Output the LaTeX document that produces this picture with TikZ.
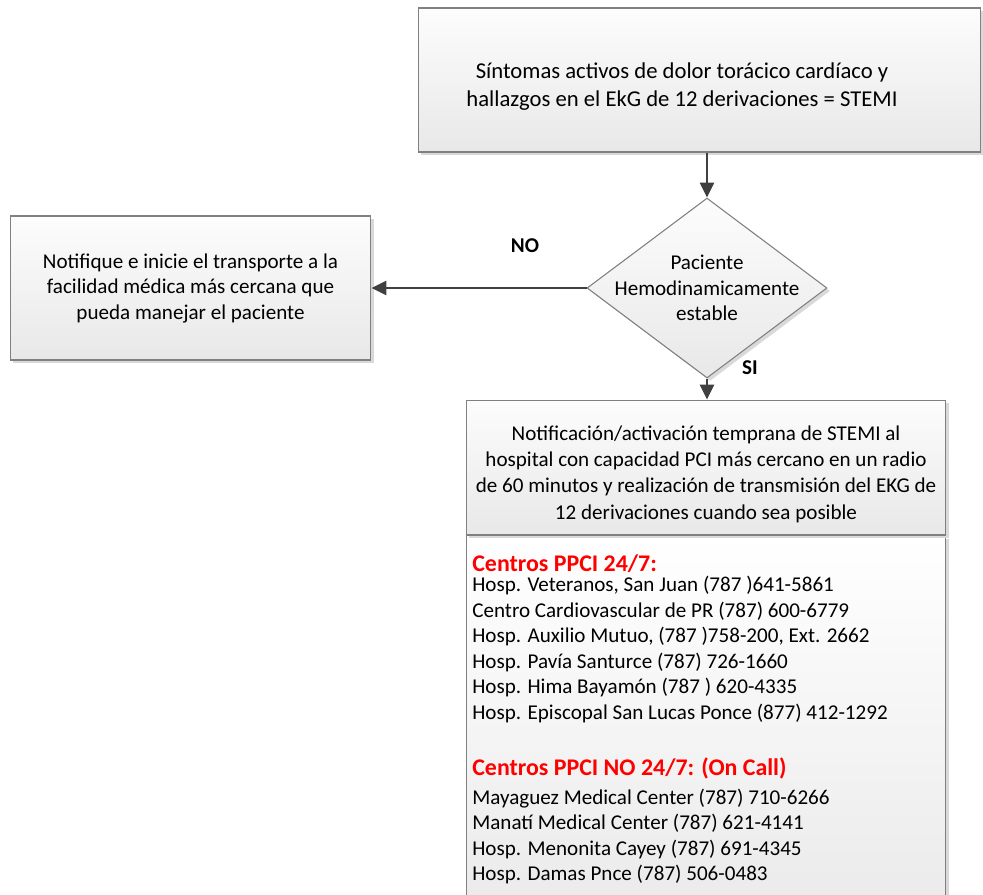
\documentclass[tikz,border=0pt]{standalone}
\usepackage{fontspec}
\setmainfont{Carlito}
\usetikzlibrary{arrows.meta,shapes.geometric,shadows}
\definecolor{borde}{RGB}{128,128,128}
\definecolor{flechagris}{RGB}{64,64,64}
\definecolor{sombra}{RGB}{217,217,217}
\begin{document}
\begin{tikzpicture}[x=0.02cm,y=-0.02cm,
    caja/.style={rectangle,draw=borde,line width=0.6pt,top color=white!99!black,bottom color=white!91!black,
      drop shadow={shadow xshift=0.06cm,shadow yshift=-0.06cm,fill=sombra,opacity=1}},
    texto/.style={align=center,font=\fontsize{12}{14.5}\selectfont,inner sep=0pt},
    etiqueta/.style={font=\fontsize{12}{14.5}\selectfont\bfseries,inner sep=0pt}]
  \useasboundingbox (0,0) rectangle (983,894);
  % boxes
  \begin{scope}[every node/.append style={inner sep=0pt}]
  \node[caja,minimum width=11.26cm,minimum height=2.88cm] (stemi) at (699.5,80) {};
  \node[caja,minimum width=7.22cm,minimum height=2.88cm] (notif) at (190.5,288) {};
  \node[caja,diamond,minimum width=4.8cm,minimum height=3.6cm] (dec) at (707,288) {};
  \node[caja,anchor=north,minimum width=9.6cm,minimum height=7.4cm,top color=white,bottom color=white!92!black] (centros) at (706,535) {};
  \node[caja,minimum width=9.6cm,minimum height=2.7cm] (pci) at (706,467.5) {};
  \end{scope}
  % texts
  \node[texto,font=\fontsize{12.9}{16}\selectfont] (stemitxt) at (682,87)
    {Síntomas activos de dolor torácico cardíaco y\\hallazgos en el EkG de 12 derivaciones = STEMI};
  \node[texto] (notiftxt) at (notif) {Notifique e inicie el transporte a la\\facilidad médica más cercana que\\pueda manejar el paciente};
  \node[texto] (dectxt) at (dec) {Paciente\\Hemodinamicamente\\estable};
  \node[texto,font=\fontsize{12}{15}\selectfont] (pcitxt) at (706,474) {Notificación/activación temprana de STEMI al\\hospital con capacidad PCI más cercano en un radio\\de 60 minutos y realización de transmisión del EKG de\\12 derivaciones cuando sea posible};
  \node[texto,align=left,anchor=north west] (centrostxt) at (472,554) {%
    {\color{red}\bfseries\fontsize{13.6}{14.5}\selectfont Centros PPCI 24/7:}\\[-2.8pt]
    Hosp. Veteranos, San Juan (787 )641-5861\\
    Centro Cardiovascular de PR (787) 600-6779\\
    Hosp. Auxilio Mutuo, (787 )758-200, Ext. 2662\\
    Hosp. Pavía Santurce (787) 726-1660\\
    Hosp. Hima Bayamón (787 ) 620-4335\\
    Hosp. Episcopal San Lucas Ponce (877) 412-1292\\[17.7pt]
    {\color{red}\bfseries\fontsize{13.6}{14.5}\selectfont Centros PPCI NO 24/7: (On Call)}\\[1.7pt]
    Mayaguez Medical Center (787) 710-6266\\
    Manatí Medical Center (787) 621-4141\\
    Hosp. Menonita Cayey (787) 691-4345\\
    Hosp. Damas Pnce (787) 506-0483};
  \node[etiqueta] (no) at (525,246) {NO};
  \node[etiqueta] (si) at (750,368) {SI};
  % connectors
  \begin{scope}[every edge/.style={draw=flechagris,line width=1.5pt,-{Triangle[length=8.5pt,width=8pt]}}]
  \path (dec.north |- stemi.south) edge (dec.north);
  \path (dec.west) edge (notif.east);
  \path (dec.south) edge (dec.south |- pci.north);
  \end{scope}
\end{tikzpicture}
\end{document}
